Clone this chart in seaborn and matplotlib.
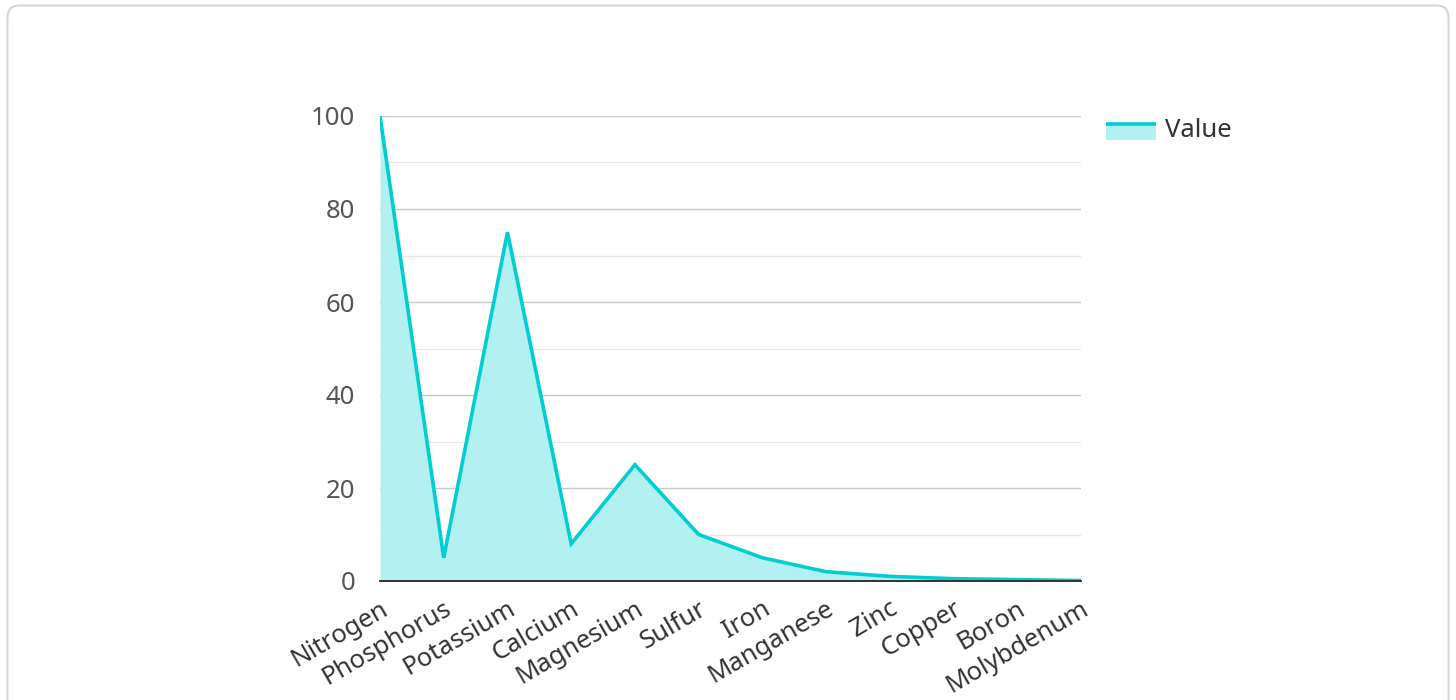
import numpy as np
import pandas as pd
import matplotlib
matplotlib.use("Agg")
import matplotlib.pyplot as plt
from matplotlib.patches import FancyBboxPatch, Rectangle
from matplotlib.lines import Line2D
from matplotlib.legend_handler import HandlerBase
from matplotlib.transforms import IdentityTransform
import seaborn as sns

# Data
nutrients = ["Nitrogen", "Phosphorus", "Potassium", "Calcium", "Magnesium", "Sulfur",
             "Iron", "Manganese", "Zinc", "Copper", "Boron", "Molybdenum"]
values = [100, 5, 75, 8, 25, 10, 5, 2, 1, 0.5, 0.3, 0.1]
y_ticks = [0, 20, 40, 60, 80, 100]
y_minor = [10, 30, 50, 70, 90]
series_name = "Value"

LINE = "#00ced1"
FILL = "#b3f0f1"

sns.set_theme(style="white")
plt.rcParams["font.family"] = ["Noto Sans", "DejaVu Sans"]


class AreaHandler(HandlerBase):
    """legend key: filled box with the line along its top edge"""
    def create_artists(self, legend, orig, xd, yd, w, h, fontsize, trans):
        rect = Rectangle((-xd, -yd - 3), w, h, facecolor=FILL, edgecolor="none", transform=trans)
        line = Line2D([-xd, -xd + w], [-yd + h - 3, -yd + h - 3], color=LINE, lw=2.6,
                      solid_capstyle="butt", transform=trans)
        return [rect, line]


def main():
    df = pd.DataFrame({"nutrient": nutrients, "value": values})
    df["pos"] = np.arange(len(df))

    fig = plt.figure(figsize=(14.56, 7), dpi=100)
    ax = fig.add_axes([380 / 1456, 119 / 700, 701 / 1456, 465 / 700])

    # rounded card border
    card = FancyBboxPatch((7.5, -20), 1441, 714.5, boxstyle="round,pad=0,rounding_size=12",
                          transform=IdentityTransform(), facecolor="none",
                          edgecolor="#d4d4d4", lw=1.4)
    fig.patches.append(card)

    ax.fill_between(df["pos"], df["value"], 0, color=FILL, linewidth=0, zorder=2)
    sns.lineplot(data=df, x="pos", y="value", color=LINE, lw=2.6, ax=ax, zorder=3)
    for ln in ax.lines:
        ln.set_solid_joinstyle("miter")

    ax.set_xlim(0, len(df) - 1)
    ax.set_ylim(0, 100)
    ax.set_yticks(y_ticks)
    ax.set_yticks(y_minor, minor=True)
    ax.set_xticks(df["pos"])
    ax.set_xticklabels(df["nutrient"], rotation=30, ha="right", rotation_mode="anchor")
    ax.set_xlabel("")
    ax.set_ylabel("")

    ax.grid(True, which="major", axis="y", color="#c8c8c8", lw=1.0, zorder=0)
    ax.grid(True, which="minor", axis="y", color="#e8e8e8", lw=1.0, zorder=0)
    ax.grid(False, axis="x")
    ax.set_axisbelow(True)

    for side in ["top", "right", "left"]:
        ax.spines[side].set_visible(False)
    ax.spines["bottom"].set_color("#333333")
    ax.spines["bottom"].set_linewidth(1.4)
    ax.spines["bottom"].set_zorder(4)

    ax.tick_params(axis="y", which="both", length=0, pad=18, labelsize=18.5, labelcolor="#555555")
    ax.tick_params(axis="x", length=0, pad=11, labelsize=18.5, labelcolor="#333333")
    for lbl in ax.get_xticklabels():
        lbl.set_x(lbl.get_position()[0])

    proxy = Rectangle((0, 0), 1, 1)
    fig.legend([proxy], [series_name], handler_map={Rectangle: AreaHandler()},
               loc="upper left", bbox_to_anchor=(1106 / 1456, 1 - 118 / 700),
               frameon=False, borderpad=0, borderaxespad=0, handlelength=1.95,
               handleheight=0.6, handletextpad=0.35, fontsize=18.5, labelcolor="#333333")

    fig.savefig("out.png", dpi=100, facecolor="white")
    plt.close(fig)


if __name__ == "__main__":
    main()
